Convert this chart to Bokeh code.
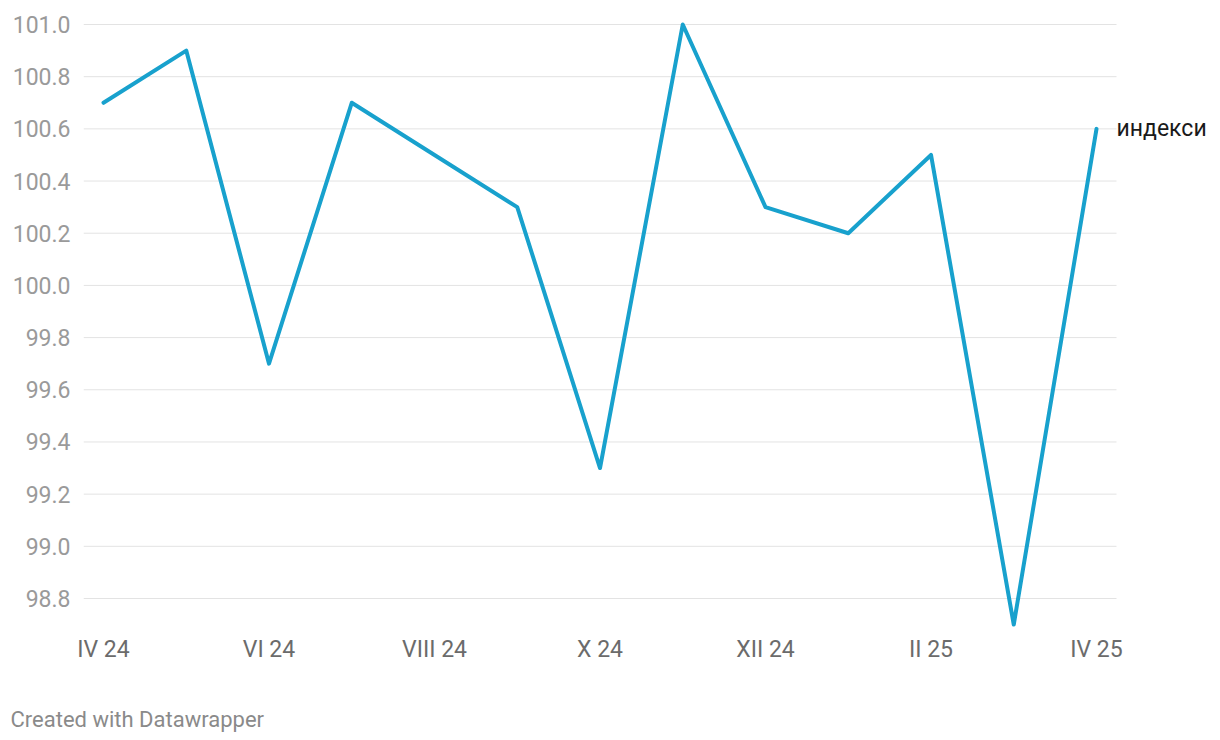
from bokeh.plotting import figure
from bokeh.models import Range1d, FixedTicker, Label, Title, ColumnDataSource
from bokeh.embed import file_html
from bokeh.resources import INLINE

months = ["IV 24", "V 24", "VI 24", "VII 24", "VIII 24", "IX 24", "X 24",
          "XI 24", "XII 24", "I 25", "II 25", "III 25", "IV 25"]
index_values = [100.7, 100.9, 99.7, 100.7, 100.5, 100.3, 99.3,
                101.0, 100.3, 100.2, 100.5, 98.7, 100.6]
y_ticks = [98.8, 99.0, 99.2, 99.4, 99.6, 99.8, 100.0, 100.2, 100.4, 100.6, 100.8, 101.0]
series_label = "индекси"
footer = "Created with Datawrapper"

FONT = "Roboto"
xs = list(range(len(months)))
src = ColumnDataSource(dict(x=xs, y=index_values, m=months))

x0, x1 = -0.2417, 12.2417
k = 260.9          # px per unit
B = 628.0          # expected frame bottom (page px)
p = figure(width=1220, height=740, output_backend="svg", toolbar_location=None,
           min_border_left=83, min_border_right=5, min_border_top=14, min_border_bottom=0)
p.x_range = Range1d(x0, 13.438)
p.y_range = Range1d(98.8 - (B - 598) / k, 101.0 + 10 / k)
p.outline_line_color = None
p.background_fill_color = "white"
p.border_fill_color = "white"

# horizontal grid lines at the y ticks, limited to the data area
p.segment(x0=[x0] * len(y_ticks), x1=[x1] * len(y_ticks), y0=y_ticks, y1=y_ticks,
          line_color="#e3e3e3", line_width=1)

p.line("x", "y", source=src, line_color="#18a1cd", line_width=4,
       line_join="round", line_cap="round")

p.xaxis.ticker = FixedTicker(ticks=xs[::2])
p.xaxis.major_label_overrides = {i: months[i] for i in xs}
p.yaxis.ticker = FixedTicker(ticks=y_ticks)
p.yaxis.major_label_overrides = {t: f"{t:.1f}" for t in y_ticks}

for ax in (p.xaxis, p.yaxis):
    ax.axis_line_color = None
    ax.major_tick_line_color = None
    ax.minor_tick_line_color = None
    ax.major_tick_out = 0
    ax.major_tick_in = 0
    ax.major_label_text_font = FONT
    ax.major_label_text_font_size = "23px"

p.xaxis.major_label_text_color = "#6b6b6b"
p.yaxis.major_label_text_color = "#9a9a9a"
p.xaxis.major_label_standoff = 7
p.yaxis.major_label_standoff = 13
# blank axis label used only as spacer between tick labels and footer
p.xaxis.axis_label = " "
p.xaxis.axis_label_text_font_size = "20px"
p.xaxis.axis_label_standoff = 5

p.xgrid.grid_line_color = None
p.ygrid.grid_line_color = None

p.add_layout(Label(x=12, y=index_values[-1], text=series_label, x_offset=20,
                   text_font=FONT, text_font_size="23px", text_color="#1a1a1a",
                   text_baseline="middle", text_align="left"))

p.add_layout(Title(text=footer, align="left", offset=-73, text_font=FONT,
                   text_font_size="22px", text_font_style="normal",
                   text_color="#8a8a8a", standoff=18), "below")

open("out.html", "w").write(file_html(p, INLINE))
